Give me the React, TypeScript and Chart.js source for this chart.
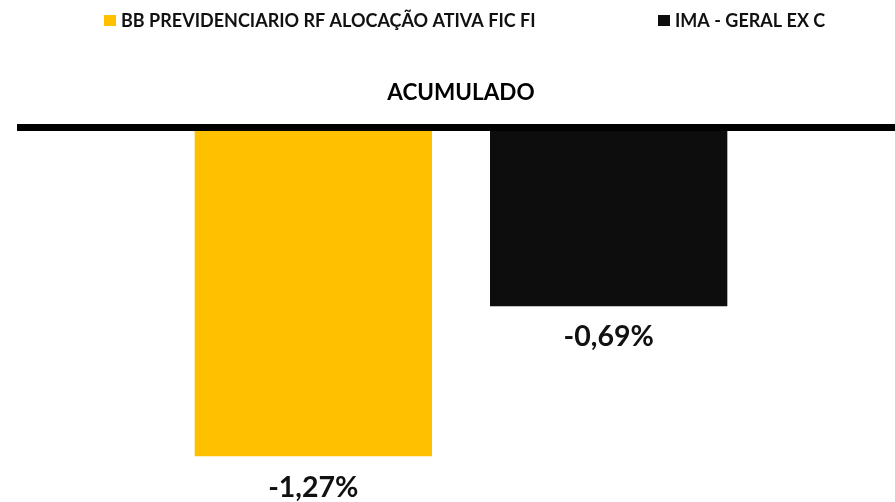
import React, { useEffect, useRef } from "react";
import { Chart, registerables } from "chart.js";

Chart.register(...registerables);

const categories = ["ACUMULADO"];
const seriesNames = ["BB PREVIDENCIARIO RF ALOCAÇÃO ATIVA FIC FI", "IMA - GERAL EX C"];
const fundValues = [-1.27];
const benchmarkValues = [-0.69];
const seriesColors = ["#FFC000", "#0D0D0D"];
const titleText = "ACUMULADO";
const yMin = -1.4;
const yMax = 0;

const FONT = "Lato, 'Noto Sans', sans-serif";

const fmt = (v: number) => v.toFixed(2).replace(".", ",") + "%";

const decorPlugin = {
  id: "decor",
  afterDatasetsDraw(chart: any) {
    const ctx = chart.ctx as CanvasRenderingContext2D;
    const y0 = chart.scales.y.getPixelForValue(0);
    ctx.save();
    // zero axis line
    ctx.fillStyle = "#000000";
    ctx.fillRect(17, y0 - 3.5, chart.width - 17, 7);
    // value labels
    ctx.font = `700 28.5px ${FONT}`;
    ctx.textAlign = "center";
    ctx.textBaseline = "middle";
    ctx.fillStyle = "#111111";
    chart.data.datasets.forEach((ds: any, i: number) => {
      const meta = chart.getDatasetMeta(i);
      meta.data.forEach((el: any, j: number) => {
        const v = ds.data[j] as number;
        ctx.fillText(fmt(v), el.x, el.y + 31);
      });
    });
    ctx.restore();
  },
  afterDraw(chart: any) {
    const ctx = chart.ctx as CanvasRenderingContext2D;
    const area = chart.chartArea;
    ctx.save();
    // title
    ctx.font = `700 22.5px ${FONT}`;
    ctx.textAlign = "center";
    ctx.textBaseline = "middle";
    ctx.fillStyle = "#000000";
    ctx.fillText(titleText, (area.left + area.right) / 2, 93);
    // legend
    ctx.font = `700 18px ${FONT}`;
    ctx.textAlign = "left";
    const starts = [104, 658];
    chart.data.datasets.forEach((ds: any, i: number) => {
      const x = starts[i];
      ctx.fillStyle = ds.backgroundColor;
      ctx.fillRect(x, 15, 12, 11);
      ctx.fillStyle = "#111111";
      ctx.fillText(ds.label, x + 17, 21);
    });
    ctx.restore();
  },
};

export default function App() {
  const ref = useRef<HTMLCanvasElement>(null);
  useEffect(() => {
    if (!ref.current) return;
    const chart = new Chart(ref.current, {
      type: "bar",
      data: {
        labels: categories,
        datasets: [
          { label: seriesNames[0], data: fundValues, backgroundColor: seriesColors[0] },
          { label: seriesNames[1], data: benchmarkValues, backgroundColor: seriesColors[1] },
        ],
      },
      options: {
        responsive: false,
        animation: false,
        layout: { padding: { left: 27, right: 0, top: 127.5, bottom: 12 } },
        datasets: { bar: { categoryPercentage: 0.6805, barPercentage: 0.8036 } },
        scales: {
          x: { display: false },
          y: { display: false, min: yMin, max: yMax },
        },
        plugins: {
          legend: { display: false },
          title: { display: false },
          tooltip: { enabled: false },
        },
      },
      plugins: [decorPlugin],
    });
    return () => chart.destroy();
  }, []);
  return (
    <div style={{ position: "fixed", left: 0, top: 0, width: 895, height: 502, background: "#fff" }}>
      <canvas ref={ref} width={895} height={502} style={{ width: 895, height: 502 }} />
    </div>
  );
}
